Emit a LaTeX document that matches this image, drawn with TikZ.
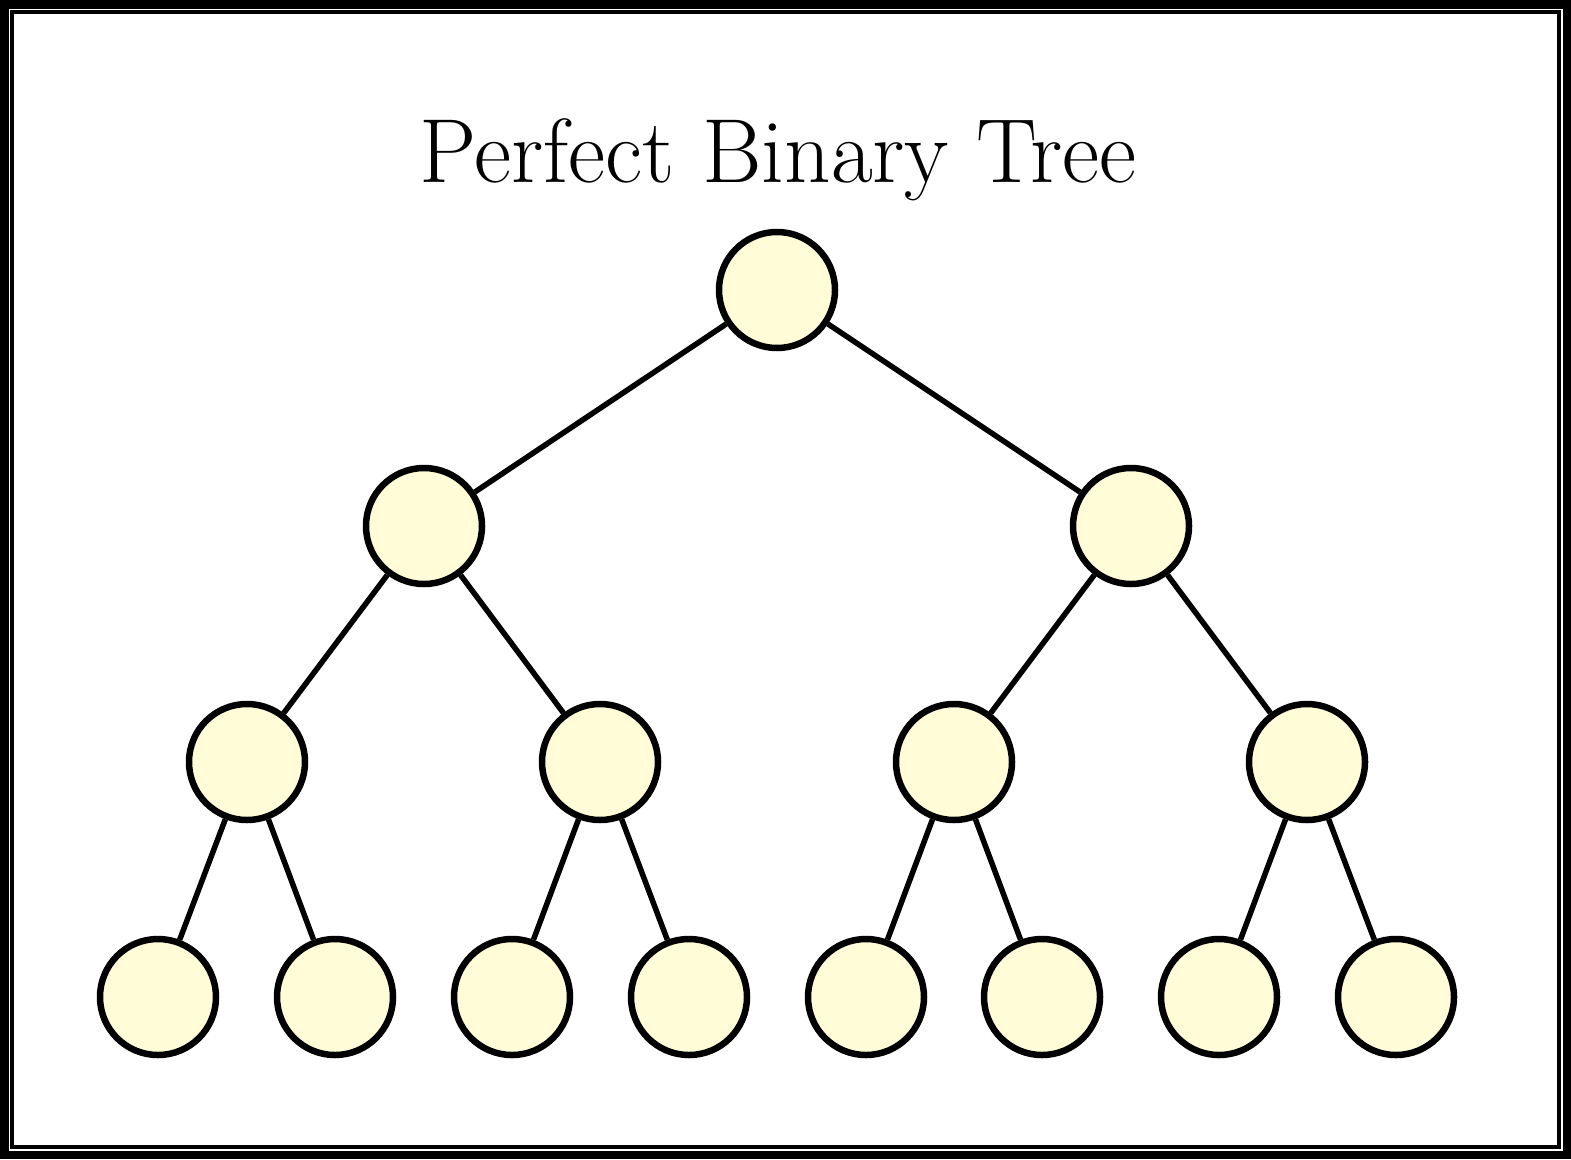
\documentclass[tikz,border=0pt]{standalone}
\usetikzlibrary{positioning}
\definecolor{nodefill}{RGB}{255,252,215}
\begin{document}
\begin{tikzpicture}[x=1pt,y=-1pt,
  treenode/.style={circle,draw=black,line width=6.5pt,fill=nodefill,minimum size=116pt,inner sep=0pt},
  edge/.style={draw=black,line width=5.5pt}]
\useasboundingbox (0,0) rectangle (1571,1159);
\fill[white] (0,0) rectangle (1571,1159);
\draw[line width=8.5pt] (4.25,4.25) rectangle (1566.75,1154.75);
\draw[line width=4pt] (12,12) rectangle (1559,1147);
\node[anchor=base,inner sep=0pt] (title) at (778,182) {\fontsize{91}{105}\selectfont Perfect Binary Tree};
\node[treenode] (r) at (777,290) {};
\node[treenode] (a) at (424,526) {};
\node[treenode] (b) at (1131,526) {};
\node[treenode] (aa) at (247,762) {};
\node[treenode] (ab) at (600,762) {};
\node[treenode] (ba) at (954,762) {};
\node[treenode] (bb) at (1307,762) {};
\node[treenode] (l1) at (158,997) {};
\node[treenode] (l2) at (335,997) {};
\node[treenode] (l3) at (512,997) {};
\node[treenode] (l4) at (689,997) {};
\node[treenode] (l5) at (866,997) {};
\node[treenode] (l6) at (1042,997) {};
\node[treenode] (l7) at (1219,997) {};
\node[treenode] (l8) at (1396,997) {};
\draw[edge] (r) -- (a);
\draw[edge] (r) -- (b);
\draw[edge] (a) -- (aa);
\draw[edge] (a) -- (ab);
\draw[edge] (b) -- (ba);
\draw[edge] (b) -- (bb);
\draw[edge] (aa) -- (l1);
\draw[edge] (aa) -- (l2);
\draw[edge] (ab) -- (l3);
\draw[edge] (ab) -- (l4);
\draw[edge] (ba) -- (l5);
\draw[edge] (ba) -- (l6);
\draw[edge] (bb) -- (l7);
\draw[edge] (bb) -- (l8);
\end{tikzpicture}
\end{document}
